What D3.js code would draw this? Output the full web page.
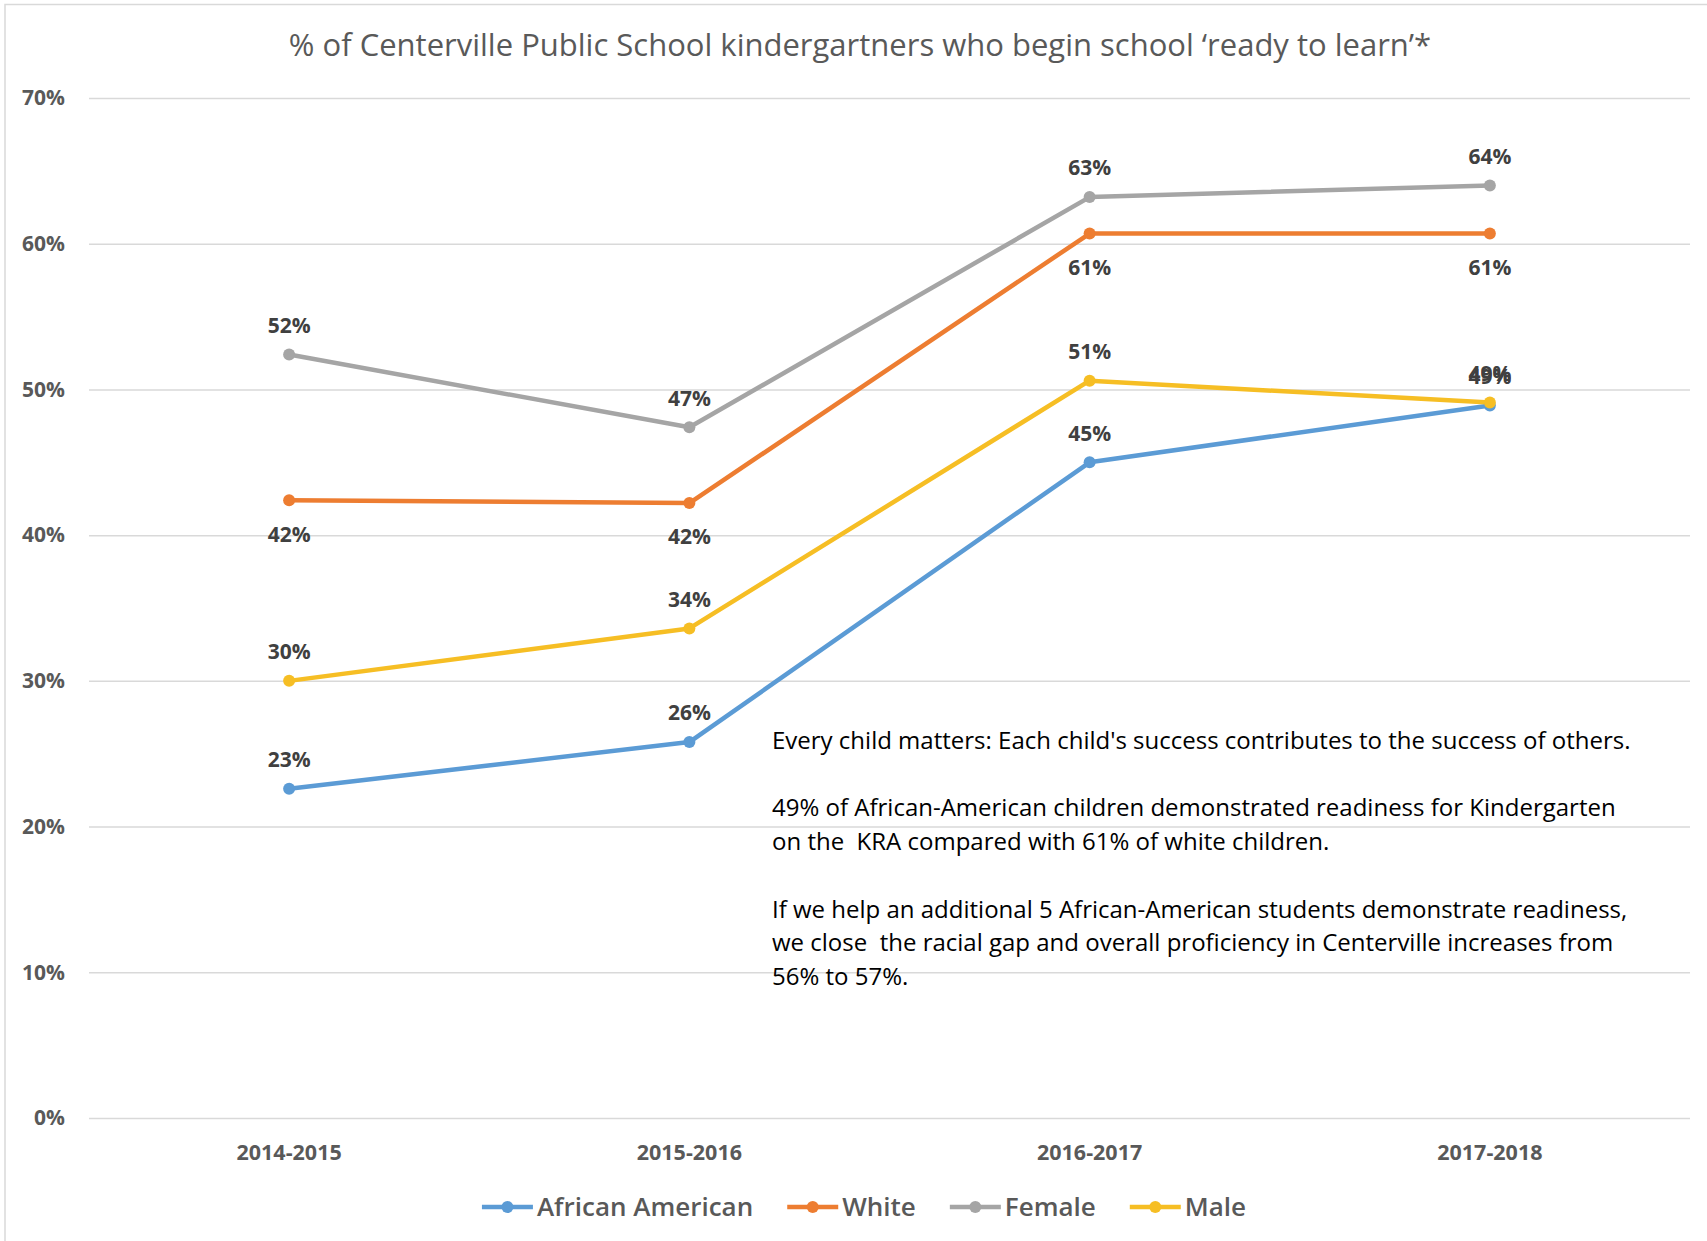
<!DOCTYPE html>
<meta charset="utf-8">
<script src="https://d3js.org/d3.v7.min.js"></script>
<style>
  body { margin: 0; background: #fff; }
  .narrow { font-family: "Liberation Sans Narrow", "Open Sans", sans-serif; }
  .bold { font-family: "Open Sans", "DejaVu Sans", sans-serif; font-weight: bold; }
</style>
<svg id="chart" width="1707" height="1241"></svg>
<script>

    // data
    const years = ["2014-2015", "2015-2016", "2016-2017", "2017-2018"];
    const africanAmerican = [22.6, 25.8, 45.0, 48.9];
    const white = [42.4, 42.2, 60.7, 60.7];
    const female = [52.4, 47.4, 63.2, 64.0];
    const male = [30.0, 33.6, 50.6, 49.1];
    const yTicks = [0, 10, 20, 30, 40, 50, 60, 70];
    const seriesNames = ["African American", "White", "Female", "Male"];

    const notes = [
        "Every child matters: Each child's success contributes to the success of others.",
        "",
        "49% of African-American children demonstrated readiness for Kindergarten",
        "on the  KRA compared with 61% of white children.",
        "",
        "If we help an additional 5 African-American students demonstrate readiness,",
        "we close  the racial gap and overall proficiency in Centerville increases from",
        "56% to 57%."
    ];

    const series = [
        {name: seriesNames[0], values: africanAmerican, color: "#5B9BD5", labelPos: "above"},
        {name: seriesNames[1], values: white, color: "#ED7D31", labelPos: "below"},
        {name: seriesNames[2], values: female, color: "#A5A5A5", labelPos: "above"},
        {name: seriesNames[3], values: male, color: "#F6BE24", labelPos: "above"}
    ];

    const svg = d3.select("#chart"),
        width = +svg.attr("width"),
        height = +svg.attr("height");

    const margin = {top: 98, right: 17, bottom: 123, left: 89};

    // chart frame: top and left edges only
    svg.append("path")
        .attr("d", `M5,${height} V4.5 H${width}`)
        .attr("fill", "none")
        .attr("stroke", "#d9d9d9")
        .attr("stroke-width", 1.5);

    const x = d3.scalePoint()
        .domain(years)
        .range([margin.left, width - margin.right])
        .padding(0.5);

    const y = d3.scaleLinear()
        .domain([0, 70])
        .range([height - margin.bottom, margin.top]);

    // title
    svg.append("text")
        .attr("class", "narrow")
        .attr("x", 860)
        .attr("y", 56)
        .attr("text-anchor", "middle")
        .style("font-size", "31px")
        .style("fill", "#595959")
        .text("% of Centerville Public School kindergartners who begin school \u2018ready to learn\u2019*");

    // gridlines
    svg.append("g")
        .attr("transform", `translate(${margin.left},0)`)
        .call(d3.axisLeft(y).tickValues(yTicks).tickSize(-(width - margin.left - margin.right)).tickFormat(""))
        .call(g => g.select(".domain").remove())
        .call(g => g.selectAll("line").attr("stroke", "#d9d9d9").attr("stroke-width", 1.5));

    // y labels
    svg.append("g")
        .selectAll("text")
        .data(yTicks)
        .enter().append("text")
            .attr("class", "bold")
            .attr("x", 65)
            .attr("y", d => y(d))
            .attr("dy", "0.35em")
            .attr("text-anchor", "end")
            .style("font-size", "21px")
            .style("fill", "#595959")
            .text(d => d + "%");

    // x labels
    svg.append("g")
        .selectAll("text")
        .data(years)
        .enter().append("text")
            .attr("class", "bold")
            .attr("x", d => x(d))
            .attr("y", 1152)
            .attr("dy", "0.35em")
            .attr("text-anchor", "middle")
            .style("font-size", "21.5px")
            .style("fill", "#595959")
            .text(d => d);

    const line = d3.line()
        .x((d, i) => x(years[i]))
        .y(d => y(d));

    const lines = svg.append("g");
    series.forEach(s => {
        lines.append("path")
            .attr("d", line(s.values))
            .style("fill", "none")
            .style("stroke", s.color)
            .style("stroke-width", 4.5)
            .style("stroke-linejoin", "round");
    });

    series.forEach(s => {
        lines.selectAll(null)
            .data(s.values)
            .enter().append("circle")
                .attr("cx", (d, i) => x(years[i]))
                .attr("cy", d => y(d))
                .attr("r", 6)
                .attr("fill", s.color);
    });

    // data labels
    series.forEach(s => {
        svg.append("g")
            .selectAll("text")
            .data(s.values)
            .enter().append("text")
                .attr("class", "bold")
                .attr("x", (d, i) => x(years[i]))
                .attr("y", d => y(d) + (s.labelPos === "above" ? -29 : 34))
                .attr("dy", "0.35em")
                .attr("text-anchor", "middle")
                .style("font-size", "21px")
                .style("fill", "#404040")
                .text(d => Math.round(d) + "%");
    });

    // annotation
    svg.append("text")
        .attr("class", "narrow")
        .attr("xml:space", "preserve")
        .style("white-space", "pre")
        .style("font-size", "24px")
        .style("fill", "#000")
        .selectAll("tspan")
        .data(notes)
        .enter().append("tspan")
            .attr("x", 772)
            .attr("y", (d, i) => 749 + i * 33.7)
            .text(d => d);

    // legend
    const legend = svg.append("g");
    let lx = 0;
    series.forEach(s => {
        const item = legend.append("g").attr("transform", `translate(${lx},0)`);
        item.append("line")
            .attr("x1", 0).attr("x2", 51)
            .attr("y1", 0).attr("y2", 0)
            .style("stroke", s.color)
            .style("stroke-width", 4.5);
        item.append("circle")
            .attr("cx", 25.5).attr("cy", 0).attr("r", 6)
            .attr("fill", s.color);
        const t = item.append("text")
            .attr("class", "narrow")
            .attr("x", 55)
            .attr("dy", "0.35em")
            .style("font-size", "26px")
            .style("font-weight", "600")
            .style("fill", "#595959")
            .text(s.name);
        lx += 55 + t.node().getComputedTextLength() + 34;
    });
    lx -= 34;
    legend.attr("transform", `translate(${(482 + 1246) / 2 - lx / 2},1207)`);

</script>
